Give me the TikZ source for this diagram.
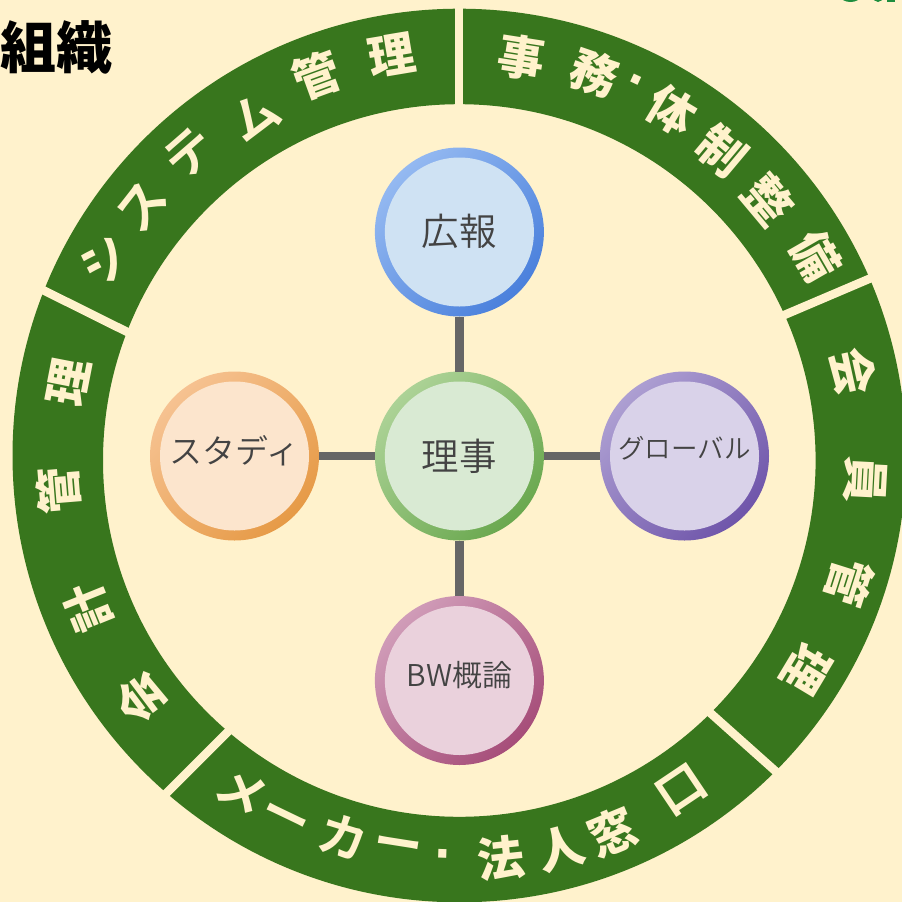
\documentclass[tikz,border=0pt]{standalone}
\usepackage{fontspec}
\newfontfamily\jpblack{Noto Sans CJK JP Black}
\newfontfamily\jpbold{Noto Sans CJK JP Bold}
\newfontfamily\jplight{Noto Sans CJK JP DemiLight}
\newfontfamily\dotfont{DejaVu Sans Bold}
\definecolor{bgcream}{HTML}{FFF2CC}
\definecolor{ringgreen}{HTML}{38761D}
\definecolor{linkgray}{HTML}{666666}
\definecolor{labelgray}{HTML}{434343}
\definecolor{cutgreen}{HTML}{1E8E3E}
\definecolor{blueA}{HTML}{94B9F1}\definecolor{blueB}{HTML}{4A80DC}\definecolor{blueC}{HTML}{CFE2F3}
\definecolor{greenA}{HTML}{ACD296}\definecolor{greenB}{HTML}{6AA84F}\definecolor{greenC}{HTML}{D9EAD3}
\definecolor{orangeA}{HTML}{F6C291}\definecolor{orangeB}{HTML}{E69A46}\definecolor{orangeC}{HTML}{FCE5CD}
\definecolor{purpleA}{HTML}{AD9FD2}\definecolor{purpleB}{HTML}{6F55AA}\definecolor{purpleC}{HTML}{D9D2E9}
\definecolor{pinkA}{HTML}{D09CB8}\definecolor{pinkB}{HTML}{A64D79}\definecolor{pinkC}{HTML}{EAD1DC}
\tikzset{
  ringtext/.style={inner sep=0pt,outer sep=0pt,text=bgcream,font=\jpblack\fontsize{47}{47}\selectfont},
  kanatext/.style={inner sep=0pt,outer sep=0pt,text=bgcream,font=\jpbold\fontsize{49}{49}\selectfont},
  dottext/.style={inner sep=0pt,outer sep=0pt,text=bgcream,font=\dotfont\fontsize{46}{46}\selectfont},
  separator/.style={draw=bgcream,line width=8.5pt,shorten >=-7pt,shorten <=-7pt},
  link/.style={draw=linkgray,line width=8.4pt},
  bubble/.style={circle,inner sep=0pt,outer sep=0pt,minimum size=169pt,top color=#1A,bottom color=#1B,shading angle=45},
  core/.style={circle,inner sep=0pt,minimum size=149pt,fill=#1C},
  bubbletext/.style={inner sep=0pt,text=labelgray,font=\jplight\fontsize{#1}{#1}\selectfont},
}
\newcommand{\arcglyph}[5]{\node[ringtext,rotate=#4] (#1) at (#2,#3) {#5};}
\newcommand{\arckana}[5]{\node[kanatext,rotate=#4] (#1) at (#2,#3) {#5};}
\newcommand{\arcdot}[4]{\node[dottext,rotate=#4] (#1) at (#2,#3) {·};}
\newcommand{\bubbleat}[7]{%
  \node[bubble=#4] (#1) at (#2,#3) {};
  \node[core=#4] (#1in) at (#1) {};
  \node[bubbletext=#5] (#1txt) at ([yshift=#6]#1) {#7};
}
\begin{document}
\begin{tikzpicture}[x=1pt,y=-1pt]
\useasboundingbox (0,0) rectangle (902,902);
\clip (0,0) rectangle (902,902);
\fill[bgcream] (0,0) rectangle (902,902);
% clipped fragment at the top edge
\fill[cutgreen] (850.5,-4) ellipse (10pt and 6pt);
\fill[cutgreen] (878,-4) ellipse (5.5pt and 6pt);
\fill[cutgreen] (887,-1) rectangle (895,2.4);
% ring
\fill[ringgreen,even odd rule] (459.3,455.5) circle (446.8pt) (459.3,460.5) circle (356.3pt);
% separators
\coordinate (s1a) at (459.2,9);    \coordinate (s1b) at (459.2,103);
\coordinate (s2a) at (869.3,278.8);\coordinate (s2b) at (784.3,315);
\coordinate (s3a) at (775,770.7);  \coordinate (s3b) at (710.7,713.3);
\coordinate (s4a) at (166.7,793);  \coordinate (s4b) at (227.3,732.3);
\coordinate (s5a) at (44.3,290.7); \coordinate (s5b) at (126.7,331.7);
\foreach \s in {1,...,5} \draw[separator] (s\s a) -- (s\s b);
% upper left
\arckana{a1}{104}{258.3}{60}{シ}
\arckana{a2}{141.7}{206.7}{52}{ス}
\arckana{a3}{189.3}{153.3}{41}{テ}
\arckana{a4}{255}{116.7}{31}{ム}
\arcglyph{a5}{316.7}{76}{20}{管}
\arcglyph{a6}{391.7}{55.7}{9.5}{理}
% upper right
\arcglyph{b1}{521.7}{58}{-9}{事}
\arcglyph{b2}{594.3}{73.3}{-19}{務}
\arcdot{b3}{633.7}{85}{-25}
\arcglyph{b4}{671.7}{110}{-31}{体}
\arcglyph{b5}{721.7}{150.7}{-40}{制}
\arcglyph{b6}{768.7}{200}{-50}{整}
\arcglyph{b7}{816}{256}{-60}{備}
% right
\arcglyph{c1}{853.3}{371.7}{-77.7}{会}
\arcglyph{c2}{865}{480}{-93}{員}
\arcglyph{c3}{850}{582}{-107.6}{管}
\arcglyph{c4}{806.7}{670}{-121}{理}
% bottom
\arckana{d1}{241.6}{791.7}{-33}{メ}
\arckana{d2}{283}{821.7}{-25.7}{ー}
\arckana{d3}{343.5}{836.7}{-17}{カ}
\arckana{d4}{397}{850}{-9}{ー}
\arcdot{d5}{443}{860}{-2}
\arcglyph{d6}{500.6}{858}{6}{法}
\arcglyph{d7}{561}{848.3}{14.7}{人}
\arcglyph{d8}{612.8}{831.7}{22.4}{窓}
\arckana{d9}{681.8}{790}{33.9}{口}
% left
\arcglyph{e1}{141}{698}{127}{会}
\arcglyph{e2}{88}{607}{112}{計}
\arcglyph{e3}{58.3}{490.7}{94.7}{管}
\arcglyph{e4}{68.3}{381.7}{79}{理}
% title
\node[inner sep=0pt,text=black,font=\jpblack\fontsize{56}{56}\selectfont] (title) at (56.5,47) {組織};
% bubbles
\bubbleat{koho}{459.4}{232}{blue}{37.5}{1pt}{広報}
\bubbleat{riji}{459.4}{456}{green}{37.5}{0pt}{理事}
\bubbleat{study}{234.5}{456}{orange}{33}{5pt}{スタディ}
\bubbleat{global}{684.5}{456}{purple}{26.5}{8pt}{グローバル}
\bubbleat{bw}{459.4}{680.5}{pink}{30}{5pt}{BW概論}
% connectors
\draw[link] (riji) -- (koho);
\draw[link] (riji) -- (study);
\draw[link] (riji) -- (global);
\draw[link] (riji) -- (bw);
\end{tikzpicture}
\end{document}
